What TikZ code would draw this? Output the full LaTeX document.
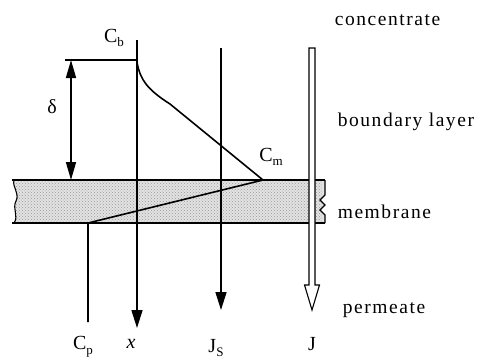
\documentclass[tikz,border=0pt]{standalone}
\usepackage{fontspec}
\setmainfont{Liberation Serif}
\usetikzlibrary{arrows.meta,patterns}
\newcommand\lsub[1]{\raisebox{-0.5ex}{\fontsize{13}{13}\selectfont #1}}
\begin{document}
\begin{tikzpicture}[x=1pt,y=-1pt,line width=1.6pt,
  lbl/.style={font=\fontsize{20}{22}\selectfont,inner sep=0pt},
  side/.style={font=\fontsize{19.5}{22}\selectfont\addfontfeature{LetterSpace=8},anchor=west,inner sep=0pt},
  headtip/.style={-{Triangle[length=18pt,width=11pt]}},
  thinline/.style={line width=1.1pt}]
\useasboundingbox (0,0) rectangle (482,362);
% membrane
\fill[gray!22] (14,180) -- (325,180) -- (325,195) -- (320,200) -- (325,205) -- (320,210) -- (325,215) -- (325,223)
  -- (14,223) .. controls (19,216) and (12,209) .. (16,201) .. controls (20,194) and (12,187) .. (14,180) -- cycle;
\fill[pattern=crosshatch dots,pattern color=gray!80] (16,181) rectangle (322,222);
\draw (12,180) -- (325,180);
\draw (12,223) -- (325,223);
\draw[thinline] (325,180) -- (325,195) -- (320,200) -- (325,205) -- (320,210) -- (325,215) -- (325,223);
\draw[thinline] (14,223) .. controls (19,216) and (12,209) .. (16,201) .. controls (20,194) and (12,187) .. (14,180);
% coordinates
\coordinate (cbL) at (65,60);
\coordinate (cbR) at (137,60);
\coordinate (dTop) at (71,60);
\coordinate (dBot) at (71,180);
\coordinate (xTop) at (137,40);
\coordinate (xEnd) at (137,328);
\coordinate (jsTop) at (221,48);
\coordinate (jsEnd) at (221,310);
\coordinate (cm) at (263,180);
\coordinate (cp) at (88,223);
\coordinate (cpEnd) at (88,322);
% lines
\draw (cbL) -- (cbR);
\draw[{Triangle[length=18pt,width=10pt]}-{Triangle[length=18pt,width=10pt]}] (dTop) -- (dBot);
\draw[headtip] (xTop) -- (xEnd);
\draw[headtip] (jsTop) -- (jsEnd);
\draw (137,62) .. controls (140,80) and (148,90) .. (170,104) -- (cm) -- (cp) -- (cpEnd);
% J double arrow
\draw[thinline,fill=white] (309,48) -- (315,48) -- (315,285) -- (319.5,285) -- (312,310) -- (304.5,285) -- (309,285) -- cycle;
% labels
\node[lbl] (Cb) at (114,38) {C\lsub{b}};
\node[lbl] (Cm) at (271,157) {C\lsub{m}};
\node[lbl] (Cp) at (83,347) {C\lsub{p}};
\node[lbl] (xl) at (131,344) {\textit{x}};
\node[lbl] (Js) at (216,348) {J\lsub{S}};
\node[lbl] (Jl) at (312,344) {J};
\node[lbl] (dl) at (52,107) {δ};
\node[side] (conc) at (334,20) {concentrate};
\node[side] (bl) at (337,122) {boundary layer};
\node[side] (mem) at (337,212) {membrane};
\node[side] (perm) at (342,310) {permeate};
\end{tikzpicture}
\end{document}
